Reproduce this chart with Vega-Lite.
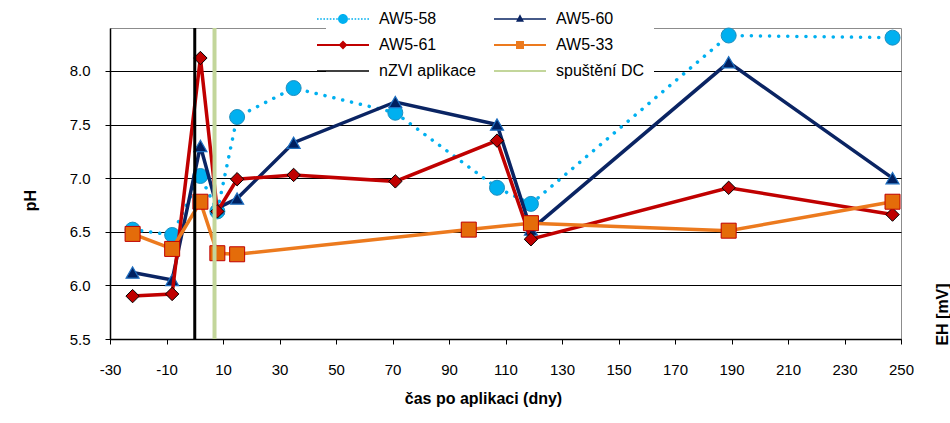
{
  "$schema": "https://vega.github.io/schema/vega-lite/v6.json",
  "width": 791,
  "height": 311,
  "autosize": {"type": "none"},
  "padding": {"left": 110, "top": 28, "right": 49, "bottom": 84},
  "background": "white",
  "config": {
    "font": "Liberation Sans",
    "view": {"stroke": "#8c8c8c", "strokeWidth": 1},
    "axis": {
      "labelFont": "Liberation Sans",
      "labelFontSize": 15,
      "labelColor": "black",
      "tickColor": "black",
      "domainColor": "black",
      "titleFont": "Liberation Sans",
      "titleFontSize": 16,
      "titleFontWeight": "bold",
      "titleColor": "black"
    }
  },
  "data": {
    "values": [
      {"series": "AW5-58", "day": -22, "pH": 6.52},
      {"series": "AW5-58", "day": -8, "pH": 6.47},
      {"series": "AW5-58", "day": 2, "pH": 7.02},
      {"series": "AW5-58", "day": 8, "pH": 6.69},
      {"series": "AW5-58", "day": 15, "pH": 7.57},
      {"series": "AW5-58", "day": 35, "pH": 7.84},
      {"series": "AW5-58", "day": 71, "pH": 7.61},
      {"series": "AW5-58", "day": 107, "pH": 6.91},
      {"series": "AW5-58", "day": 119, "pH": 6.76},
      {"series": "AW5-58", "day": 189, "pH": 8.33},
      {"series": "AW5-58", "day": 247, "pH": 8.31},
      {"series": "AW5-60", "day": -22, "pH": 6.12},
      {"series": "AW5-60", "day": -8, "pH": 6.05},
      {"series": "AW5-60", "day": 2, "pH": 7.3},
      {"series": "AW5-60", "day": 8, "pH": 6.72},
      {"series": "AW5-60", "day": 15, "pH": 6.81},
      {"series": "AW5-60", "day": 35, "pH": 7.33},
      {"series": "AW5-60", "day": 71, "pH": 7.71},
      {"series": "AW5-60", "day": 107, "pH": 7.5},
      {"series": "AW5-60", "day": 119, "pH": 6.52},
      {"series": "AW5-60", "day": 189, "pH": 8.08},
      {"series": "AW5-60", "day": 247, "pH": 7.0},
      {"series": "AW5-61", "day": -22, "pH": 5.9},
      {"series": "AW5-61", "day": -8, "pH": 5.92},
      {"series": "AW5-61", "day": 2, "pH": 8.12},
      {"series": "AW5-61", "day": 8, "pH": 6.69},
      {"series": "AW5-61", "day": 15, "pH": 6.99},
      {"series": "AW5-61", "day": 35, "pH": 7.03},
      {"series": "AW5-61", "day": 71, "pH": 6.97},
      {"series": "AW5-61", "day": 107, "pH": 7.35},
      {"series": "AW5-61", "day": 119, "pH": 6.43},
      {"series": "AW5-61", "day": 189, "pH": 6.91},
      {"series": "AW5-61", "day": 247, "pH": 6.66},
      {"series": "AW5-33", "day": -22, "pH": 6.48},
      {"series": "AW5-33", "day": -8, "pH": 6.34},
      {"series": "AW5-33", "day": 2, "pH": 6.78},
      {"series": "AW5-33", "day": 8, "pH": 6.3},
      {"series": "AW5-33", "day": 15, "pH": 6.29},
      {"series": "AW5-33", "day": 97, "pH": 6.52},
      {"series": "AW5-33", "day": 119, "pH": 6.58},
      {"series": "AW5-33", "day": 189, "pH": 6.51},
      {"series": "AW5-33", "day": 247, "pH": 6.78}
    ]
  },
  "resolve": {"scale": {"y": "independent"}},
  "layer": [
    {
      "layer": [
        {
          "transform": [{"filter": "datum.series === 'AW5-58'"}],
          "mark": {"type": "line", "color": "#00B0F0", "strokeWidth": 3.5, "strokeDash": [0.1, 9], "strokeCap": "round"},
          "encoding": {
            "x": {
              "field": "day", "type": "quantitative",
              "scale": {"domain": [-30, 250], "nice": false, "zero": false},
              "axis": {
                "values": [-30, -10, 10, 30, 50, 70, 90, 110, 130, 150, 170, 190, 210, 230, 250],
                "labelExpr": "datum.value + ''",
                "labelFlush": false,
                "grid": false, "tickSize": 5, "labelPadding": 18, "domainWidth": 1.5,
                "title": "čas po aplikaci (dny)",
                "titleX": 373, "titleY": 64, "titleBaseline": "alphabetic", "titleAlign": "center"
              }
            },
            "y": {
              "field": "pH", "type": "quantitative",
              "scale": {"domain": [5.5, 8.4], "nice": false, "zero": false},
              "axis": {
                "orient": "left",
                "values": [5.5, 6, 6.5, 7, 7.5, 8],
                "format": ".1f",
                "labelFlush": false,
                "grid": true, "gridColor": "black", "gridWidth": 1, "gridOpacity": 1,
                "tickSize": 5, "labelPadding": 15, "domainWidth": 1.5,
                "title": "pH",
                "titleX": -75, "titleY": 172, "titleAngle": 270, "titleBaseline": "alphabetic", "titleAlign": "center"
              }
            }
          }
        },
        {
          "transform": [{"filter": "datum.series === 'AW5-58'"}],
          "mark": {"type": "point", "shape": "circle", "filled": true, "opacity": 1, "size": 225, "fill": "#00B0F0", "stroke": "#1F8FBF", "strokeWidth": 1},
          "encoding": {"x": {"field": "day", "type": "quantitative"}, "y": {"field": "pH", "type": "quantitative"}}
        },
        {
          "transform": [{"filter": "datum.series === 'AW5-60'"}],
          "mark": {"type": "line", "color": "#0A2463", "strokeWidth": 3.5},
          "encoding": {"x": {"field": "day", "type": "quantitative"}, "y": {"field": "pH", "type": "quantitative"}}
        },
        {
          "transform": [{"filter": "datum.series === 'AW5-60'"}],
          "mark": {"type": "point", "shape": "triangle-up", "filled": true, "opacity": 1, "size": 170, "fill": "#002060", "stroke": "#1F6FC0", "strokeWidth": 1.2},
          "encoding": {"x": {"field": "day", "type": "quantitative"}, "y": {"field": "pH", "type": "quantitative"}}
        },
        {
          "transform": [{"filter": "datum.series === 'AW5-61'"}],
          "mark": {"type": "line", "color": "#C00000", "strokeWidth": 3.5},
          "encoding": {"x": {"field": "day", "type": "quantitative"}, "y": {"field": "pH", "type": "quantitative"}}
        },
        {
          "transform": [{"filter": "datum.series === 'AW5-61'"}],
          "mark": {"type": "point", "shape": "diamond", "filled": true, "opacity": 1, "size": 180, "fill": "#C00000", "stroke": "black", "strokeWidth": 1},
          "encoding": {"x": {"field": "day", "type": "quantitative"}, "y": {"field": "pH", "type": "quantitative"}}
        },
        {
          "transform": [{"filter": "datum.series === 'AW5-33'"}],
          "mark": {"type": "line", "color": "#EC7A1E", "strokeWidth": 3.5},
          "encoding": {"x": {"field": "day", "type": "quantitative"}, "y": {"field": "pH", "type": "quantitative"}}
        },
        {
          "transform": [{"filter": "datum.series === 'AW5-33'"}],
          "mark": {"type": "point", "shape": "square", "filled": true, "opacity": 1, "size": 225, "fill": "#E46C0A", "stroke": "#C00000", "strokeWidth": 1},
          "encoding": {"x": {"field": "day", "type": "quantitative"}, "y": {"field": "pH", "type": "quantitative"}}
        },
        {
          "data": {"values": [{"event": "nZVI aplikace", "day": 0}, {"event": "spuštění DC", "day": 7}]},
          "transform": [{"filter": "datum.event === 'nZVI aplikace'"}],
          "mark": {"type": "rule", "color": "black", "strokeWidth": 3},
          "encoding": {"x": {"field": "day", "type": "quantitative"}}
        },
        {
          "data": {"values": [{"event": "nZVI aplikace", "day": 0}, {"event": "spuštění DC", "day": 7}]},
          "transform": [{"filter": "datum.event === 'spuštění DC'"}],
          "mark": {"type": "rule", "color": "#C3D69B", "strokeWidth": 4},
          "encoding": {"x": {"field": "day", "type": "quantitative"}}
        }
      ]
    },
    {
      "mark": {"type": "point", "filled": true, "size": 0, "strokeWidth": 0, "opacity": 1},
      "encoding": {
        "x": {"field": "day", "type": "quantitative"},
        "y": {
          "field": "pH", "type": "quantitative",
          "axis": {
            "orient": "right", "labels": false, "ticks": false, "domain": false, "grid": false,
            "title": "EH [mV]",
            "titleX": 46, "titleY": 286, "titleAngle": 270, "titleBaseline": "alphabetic", "titleAlign": "center"
          }
        },
        "fill": {
          "field": "series", "type": "nominal",
          "scale": {
            "domain": ["AW5-58", "AW5-60", "AW5-61", "AW5-33", "nZVI aplikace", "spuštění DC"],
            "range": ["#00B0F0", "#0A2463", "#C00000", "#EC7A1E", "black", "#C3D69B"]
          },
          "legend": {
            "title": null, "orient": "none", "legendX": 216, "legendY": -26,
            "direction": "horizontal",
            "columns": 2, "columnPadding": 18, "rowPadding": 10,
            "symbolSize": 256, "symbolStrokeWidth": 0, "symbolOpacity": 1,
            "labelFontSize": 16, "labelOffset": 28, "labelColor": "black", "labelFont": "Liberation Sans", "labelLimit": 0,
            "fillColor": "white", "padding": 9
          }
        },
        "shape": {
          "field": "series", "type": "nominal",
          "scale": {
            "domain": ["AW5-58", "AW5-60", "AW5-61", "AW5-33", "nZVI aplikace", "spuštění DC"],
            "range": [
              "M-3.25 -0.1h0.2v0.2h-0.2z M-2.85 -0.1h0.2v0.2h-0.2z M-2.45 -0.1h0.2v0.2h-0.2z M-2.05 -0.1h0.2v0.2h-0.2z M-1.65 -0.1h0.2v0.2h-0.2z M-1.25 -0.1h0.2v0.2h-0.2z M-0.85 -0.1h0.2v0.2h-0.2z M0.65 -0.1h0.2v0.2h-0.2z M1.05 -0.1h0.2v0.2h-0.2z M1.45 -0.1h0.2v0.2h-0.2z M1.85 -0.1h0.2v0.2h-0.2z M2.25 -0.1h0.2v0.2h-0.2z M2.65 -0.1h0.2v0.2h-0.2z M3.05 -0.1h0.2v0.2h-0.2z M-0.62 0a0.62 0.62 0 1 1 1.24 0a0.62 0.62 0 1 1 -1.24 0z",
              "M-3.25 -0.09H3.25V0.09H-3.25Z M0 -0.6L0.5 0.35H-0.5Z",
              "M-3.25 -0.11H3.25V0.11H-3.25Z M0 -0.55L0.55 0L0 0.55L-0.55 0Z",
              "M-3.25 -0.11H3.25V0.11H-3.25Z M-0.5 -0.5H0.5V0.5H-0.5Z",
              "M-3.25 -0.09H3.25V0.09H-3.25Z",
              "M-3.25 -0.12H3.25V0.12H-3.25Z"
            ]
          }
        }
      }
    }
  ]
}
